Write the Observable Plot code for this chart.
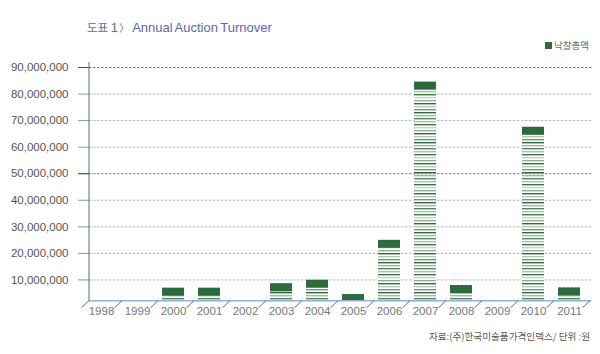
<!DOCTYPE html>
<html><head><meta charset="utf-8">
<script src="https://cdn.jsdelivr.net/npm/d3@7"></script>
<script src="https://cdn.jsdelivr.net/npm/@observablehq/plot@0.6"></script>
<style>
body{margin:0;background:#fff;}
#wrap{position:relative;width:600px;height:354px;overflow:hidden;background:#fff;}
#wrap svg{position:absolute;left:0;top:0;}
.title{position:absolute;left:87px;top:20.5px;font-family:'Liberation Sans',Arial,sans-serif;font-size:13px;line-height:13px;color:#6466a6;white-space:nowrap;word-spacing:-1px;}
.title .ko{font-family:'Noto Sans CJK KR',sans-serif;font-size:11.5px;}
.title .br{font-family:'Noto Sans CJK KR',sans-serif;font-size:10.5px;margin-left:1px;}
.legend{position:absolute;left:545px;top:41px;font-family:'Noto Sans CJK KR',sans-serif;font-size:9.5px;line-height:9.5px;color:#6a6a6a;white-space:nowrap;}
.legend i{display:inline-block;width:7px;height:7px;background:#2e6b3c;margin-right:2px;vertical-align:0px;}
.caption{position:absolute;right:10px;top:332px;font-family:'Noto Sans CJK KR',sans-serif;font-size:9.6px;line-height:9.6px;color:#555;white-space:nowrap;}
</style></head><body>
<div id="wrap"></div>
<script>
const years = ["1998","1999","2000","2001","2002","2003","2004","2005","2006","2007","2008","2009","2010","2011"];
const turnover = [0, 0, 6.9e6, 6.9e6, 0, 8.5e6, 9.9e6, 4.5e6, 24.9e6, 84.5e6, 7.9e6, 0, 67.5e6, 7.0e6];
const yTicks = [1e7, 2e7, 3e7, 4e7, 5e7, 6e7, 7e7, 8e7, 9e7];
const majorTicks = [5e7, 9e7];
const minorTicks = yTicks.filter(t => !majorTicks.includes(t));
const floorValue = 2e6;   // front edge of the 3D floor
const capValue = 3e6;     // depth of the solid top cap
const seriesLabel = "낙찰총액";
const titleKo = "도표";
const titleNum = " 1";
const titleBracket = "〉";
const titleRest = " Annual Auction Turnover";
const captionText = "자료:(주)한국미술품가격인덱스/ 단위 :원";
const stripeColors = ["#a9c1ab","#3f7449","#c3d4c4","#8fb094","#2f6a3b","#b4c9b5","#6f9877","#2f6a3b","#9fbaa2","#55845e"];

const data = years.map((year, i) => ({year, value: turnover[i]}));
const bars = data.filter(d => d.value > floorValue);

const defsMark = () => {
  const g = d3.create("svg:g");
  const p = g.append("defs").append("pattern")
    .attr("id", "stripes").attr("patternUnits", "userSpaceOnUse")
    .attr("width", 10).attr("height", stripeColors.length * 3);
  p.append("rect").attr("width", 10).attr("height", stripeColors.length * 3).attr("fill", "#fff");
  stripeColors.forEach((c, i) => {
    p.append("rect").attr("x", 0).attr("y", i * 3 + 1).attr("width", 10).attr("height", 1.4).attr("fill", c);
  });
  return g.node();
};

const frameMark = (index, scales, values, dimensions) => {
  const g = d3.create("svg:g");
  const x = scales.x, y = scales.y;
  const left = dimensions.marginLeft;
  const right = dimensions.width - dimensions.marginRight;
  const fy = y(floorValue);
  const bw = x.bandwidth ? x.bandwidth() : 0;
  const step = x(years[1]) - x(years[0]);
  const gap = (step - bw) / 2;
  const bounds = years.map(yr => x(yr) - gap);
  bounds.push(x(years[years.length - 1]) + bw + gap);
  g.append("line").attr("x1", left).attr("x2", right - 1).attr("y1", fy).attr("y2", fy)
    .attr("stroke", "#8fb2d3").attr("stroke-width", 1.5);
  g.append("line").attr("x1", left).attr("x2", left).attr("y1", y(yTicks[yTicks.length - 1]) - 5).attr("y2", fy)
    .attr("stroke", "#4d6f8c").attr("stroke-width", 1);
  bounds.forEach(b => {
    const top = Math.max(left, b + 3);
    g.append("line").attr("x1", top).attr("y1", fy).attr("x2", top - 7.5).attr("y2", fy + 7)
      .attr("stroke", "#4d6f8c").attr("stroke-width", 1);
  });
  return g.node();
};

const chart = Plot.plot({
  width: 600,
  height: 354,
  marginTop: 67,
  marginBottom: 48,
  marginLeft: 89,
  marginRight: 8,
  style: {fontFamily: "'Liberation Sans', Arial, sans-serif", fontSize: "11.5px", background: "transparent", overflow: "visible"},
  x: {type: "band", domain: years, range: [82, 588.5], paddingInner: 0.4, paddingOuter: 0.2, axis: null},
  y: {domain: [0, 9e7], axis: null},
  marks: [
    defsMark,
    Plot.ruleY(minorTicks, {stroke: "#a2afba", strokeWidth: 0.9, strokeDasharray: "2.5,1.5"}),
    Plot.barY(bars, {x: "year", y1: floorValue, y2: d => d.value, fill: "url(#stripes)"}),
    Plot.barY(bars, {x: "year", y1: d => d.value, y2: d => Math.max(floorValue, d.value - capValue), fill: "#2e6b3c"}),
    Plot.ruleY(majorTicks, {stroke: "#5d6e80", strokeWidth: 0.9, strokeDasharray: "2.5,1.5"}),
    Plot.axisY(yTicks, {anchor: "left", tickSize: 11, tickPadding: 10, tickFormat: d3.format(","), stroke: "#7d98b0", fill: "#555", label: null}),
    Plot.axisY(majorTicks, {anchor: "left", tickSize: 11, tickPadding: 10, tickFormat: () => "", stroke: "#33526e", label: null}),
    Plot.text(years, {x: d => d, y: floorValue, dy: 10.3, text: d => d, fill: "#777", fontSize: 11.5}),
    frameMark
  ]
});

const wrap = document.getElementById("wrap");
wrap.appendChild(chart);
const title = document.createElement("div");
title.className = "title";
const ko = document.createElement("span"); ko.className = "ko"; ko.textContent = titleKo;
title.appendChild(ko);
title.appendChild(document.createTextNode(titleNum));
const br = document.createElement("span"); br.className = "br"; br.textContent = titleBracket;
title.appendChild(br);
title.appendChild(document.createTextNode(titleRest));
wrap.appendChild(title);
const legend = document.createElement("div");
legend.className = "legend";
legend.innerHTML = "<i></i>";
legend.appendChild(document.createTextNode(seriesLabel));
wrap.appendChild(legend);
const cap = document.createElement("div");
cap.className = "caption";
cap.textContent = captionText;
wrap.appendChild(cap);
</script>
</body></html>
